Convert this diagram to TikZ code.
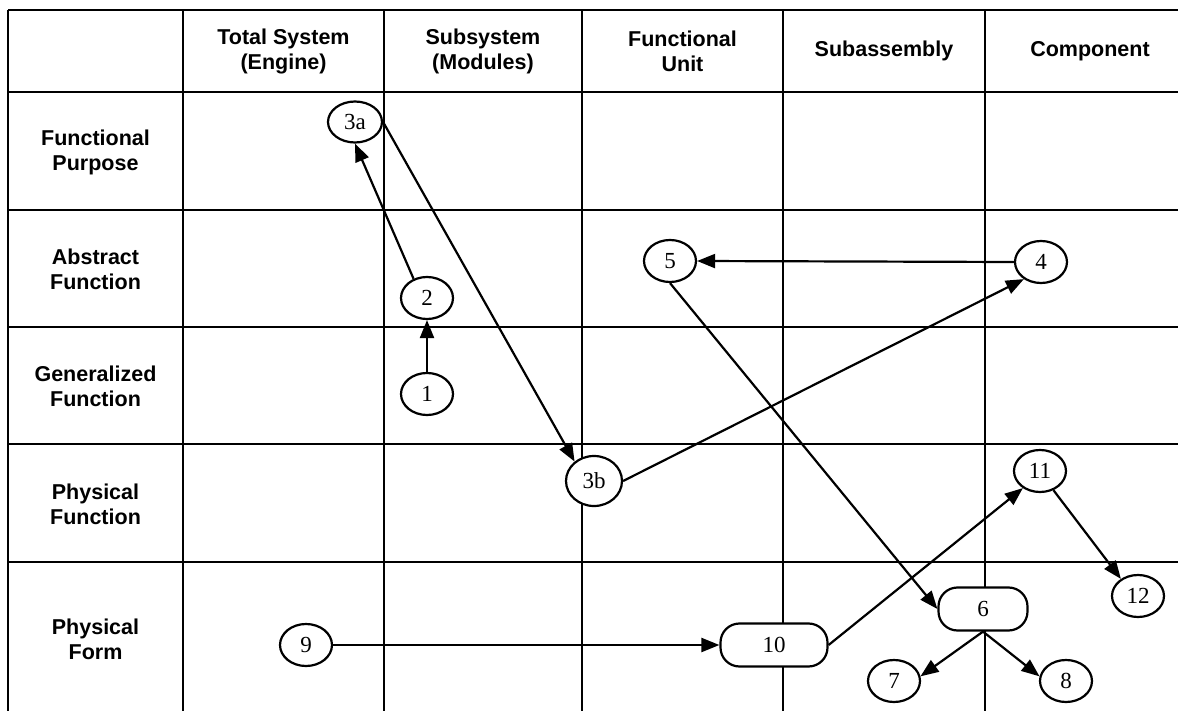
\documentclass[tikz,border=0pt]{standalone}
\usepackage{fontspec}
\setmainfont{Liberation Serif}
\newfontfamily\hdrfont{Liberation Sans}
\usetikzlibrary{shapes.geometric,arrows.meta}
\tikzset{
  grid/.style={line width=2.2pt,black},
  hdr/.style={font=\hdrfont\bfseries\fontsize{21.5}{25}\selectfont,align=center,inner sep=0pt},
  oval/.style={draw,ellipse,line width=2.2pt,minimum width=52pt,minimum height=42pt,inner sep=0pt,font=\fontsize{23}{25}\selectfont,fill=white},
  pill/.style={draw,rectangle,rounded corners=19pt,line width=2.2pt,minimum height=43pt,inner sep=0pt,font=\fontsize{23}{25}\selectfont,fill=white},
  link/.style={line width=2.2pt,-{Triangle[length=18pt,width=14pt]}}
}
\begin{document}
\begin{tikzpicture}[x=1pt,y=-1pt]
\useasboundingbox (0,0) rectangle (1178,711);
\fill[white] (0,0) rectangle (1178,711);
% grid
\foreach \yy in {10,92,210,327,444,562} {\draw[grid] (8,\yy) -- (1178,\yy);}
\foreach \xx in {8,183,384,582,783,985} {\draw[grid] (\xx,10) -- (\xx,711);}
% column headers
\node[hdr] (hTS) at (283.5,51) {Total System\\(Engine)};
\node[hdr] (hSS) at (483,51) {Subsystem\\(Modules)};
\node[hdr] (hFU) at (682.5,51) {Functional\\Unit};
\node[hdr] (hSA) at (884,51) {Subassembly};
\node[hdr] (hCO) at (1090,51) {Component};
% row headers
\node[hdr] (rFP) at (95.5,152) {Functional\\Purpose};
\node[hdr] (rAF) at (95.5,269.5) {Abstract\\Function};
\node[hdr] (rGF) at (95.5,386.5) {Generalized\\Function};
\node[hdr] (rPF) at (95.5,504) {Physical\\Function};
\node[hdr] (rPM) at (95.5,639) {Physical\\Form};
% nodes
\node[oval,minimum width=54pt,minimum height=41pt] (n3a) at (355,122) {3a};
\node[oval] (n2) at (427,298) {2};
\node[oval] (n1) at (427,394) {1};
\node[oval,minimum width=56pt,minimum height=50pt] (n3b) at (594,481) {3b};
\node[oval] (n5) at (670,261) {5};
\node[oval] (n4) at (1041,262) {4};
\node[oval] (n11) at (1040,471) {11};
\node[oval] (n12) at (1138,596) {12};
\node[pill,minimum width=89pt] (n6) at (983,609) {6};
\node[oval] (n7) at (894,681) {7};
\node[oval] (n8) at (1066,681) {8};
\node[oval] (n9) at (306,645) {9};
\node[pill,minimum width=107pt] (n10) at (774,645) {10};
% connectors
\draw[link] (n1) -- (n2);
\draw[link] (n2.125) -- (n3a.south);
\draw[link] (n3a.east) -- (n3b.135);
\draw[link] (n3b.east) -- (n4.225);
\draw[link] (n4.west) -- (n5.east);
\draw[link] (n5.south) -- (n6.west);
\draw[link] (n9.east) -- (n10.west);
\draw[link] (n10.east) -- (n11.225);
\draw[link] (n11.-55) -- (n12.135);
\draw[link] (n6.south) -- (n7.10);
\draw[link] (n6.south) -- (n8.170);
\end{tikzpicture}
\end{document}
